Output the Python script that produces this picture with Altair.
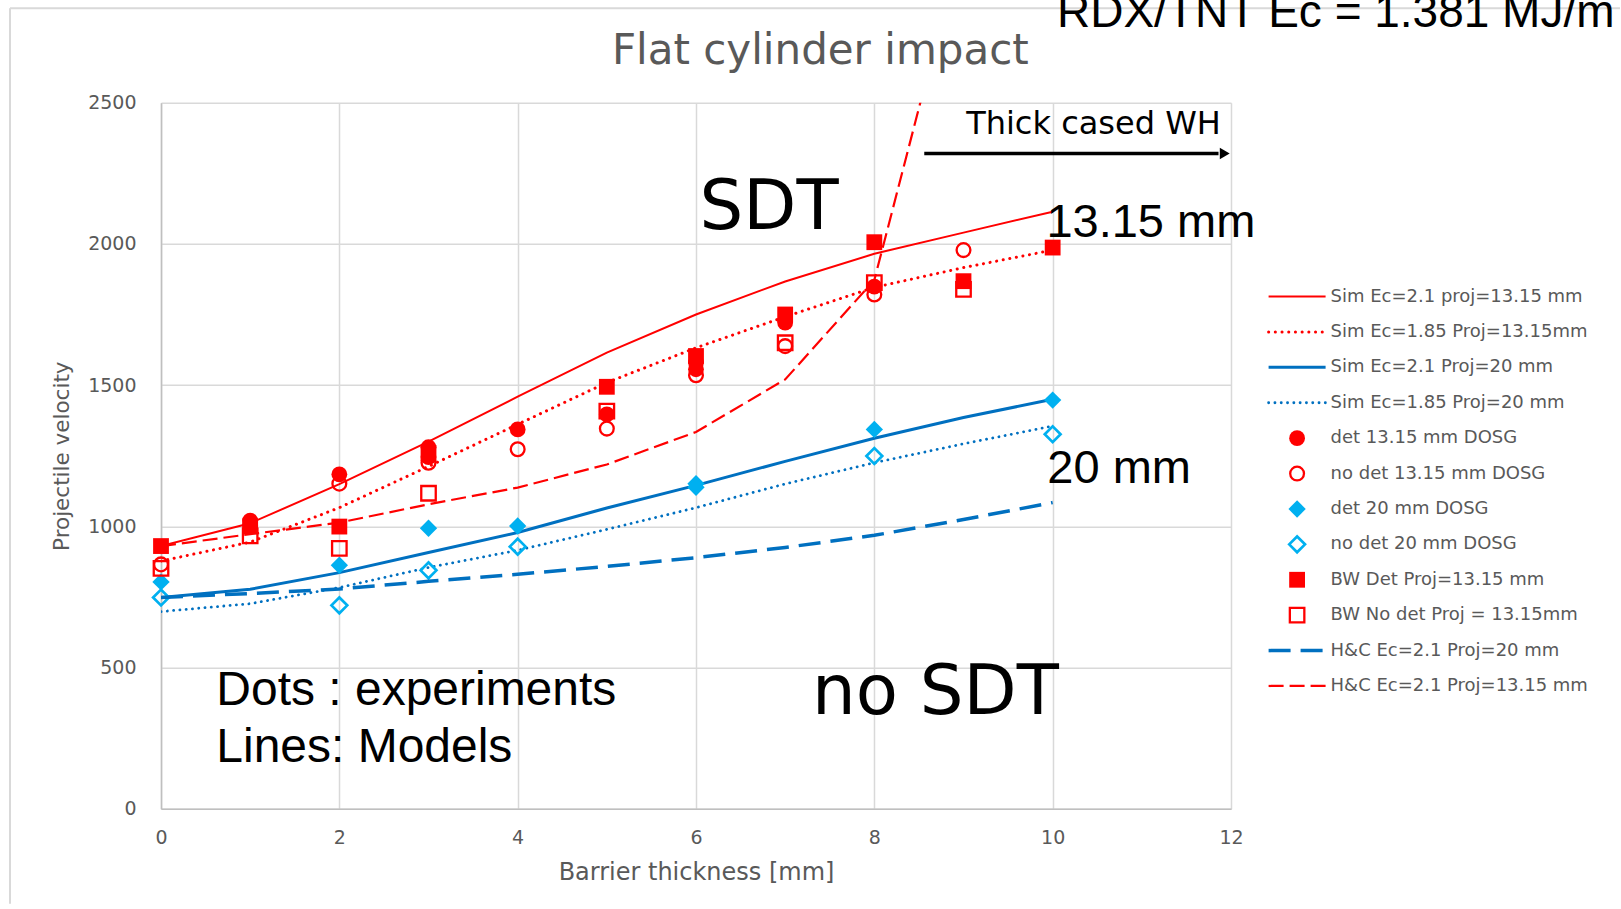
import altair as alt
import pandas as pd

# ---------------- data ----------------
x_sim = [0, 1, 2, 3, 4, 5, 6, 7, 8, 9, 10]
sim_ec21_p1315 = [930, 1011, 1149, 1300, 1459, 1615, 1750, 1867, 1965, 2040, 2114]
sim_ec185_p1315 = [877, 944, 1066, 1212, 1361, 1509, 1632, 1742, 1846, 1916, 1978]
sim_ec21_p20 = [748, 777, 836, 907, 978, 1065, 1145, 1230, 1312, 1385, 1450]
sim_ec185_p20 = [698, 726, 783, 854, 915, 989, 1066, 1150, 1225, 1292, 1355]

hc_x_p20 = [0, 1, 2, 3, 4, 5, 6, 7, 8, 9, 10]
hc_ec21_p20 = [748, 762, 778, 805, 830, 858, 889, 925, 968, 1024, 1084]
hc_x_p1315 = [0, 1, 2, 3, 4, 5, 6, 7, 8, 9]
hc_ec21_p1315 = [930, 972, 1013, 1078, 1137, 1219, 1334, 1520, 1872, 3090]

det1315_x = [1, 1, 2, 3, 3, 4, 5, 6, 6, 7, 8]
det1315_y = [1020, 1002, 1184, 1280, 1245, 1343, 1396, 1580, 1556, 1721, 1849]
nodet1315_x = [0, 2, 3, 4, 5, 6, 7, 8, 9]
nodet1315_y = [865, 1151, 1225, 1273, 1346, 1535, 1638, 1821, 1978]
det20_x = [0, 2, 3, 4, 6, 6, 8, 10]
det20_y = [803, 862, 993, 1001, 1151, 1138, 1343, 1447]
nodet20_x = [0, 2, 3, 4, 8, 10]
nodet20_y = [748, 720, 844, 928, 1249, 1326]
bwdet_x = [0, 1, 2, 3, 5, 6, 7, 8, 9, 10]
bwdet_y = [930, 1000, 999, 1260, 1494, 1603, 1750, 2006, 1868, 1987]
bwnodet_x = [0, 1, 2, 3, 5, 7, 8, 9]
bwnodet_y = [851, 966, 922, 1117, 1408, 1650, 1863, 1839]

series_names = [
    "Sim Ec=2.1 proj=13.15 mm",
    "Sim Ec=1.85  Proj=13.15mm",
    "Sim Ec=2.1 Proj=20 mm",
    "Sim Ec=1.85 Proj=20 mm",
    "det 13.15 mm DOSG",
    "no det 13.15 mm DOSG",
    "det 20 mm DOSG",
    "no det 20 mm DOSG",
    "BW Det Proj=13.15 mm",
    "BW No det Proj = 13.15mm",
    "H&C Ec=2.1 Proj=20 mm",
    "H&C Ec=2.1 Proj=13.15 mm",
]
legend_rows = list(range(len(series_names)))

x_ticks = [0, 2, 4, 6, 8, 10, 12]
y_ticks = [0, 500, 1000, 1500, 2000, 2500]

# ---------------- styles ----------------
RED = "#FF0000"
BLUE = "#0070C0"
CYAN = "#00B0F0"
GREY = "#595959"

styles = {
    series_names[0]: dict(kind="line", color=RED, strokeWidth=2),
    series_names[1]: dict(kind="line", color=RED, strokeWidth=3, strokeDash=[0.1, 6.6], strokeCap="round"),
    series_names[2]: dict(kind="line", color=BLUE, strokeWidth=3),
    series_names[3]: dict(kind="line", color=BLUE, strokeWidth=2.8, strokeDash=[0.1, 6.2], strokeCap="round"),
    series_names[4]: dict(kind="point", color=RED, shape="circle", filled=True, size=250),
    series_names[5]: dict(kind="point", color=RED, shape="circle", filled=False, size=190, strokeWidth=2.3),
    series_names[6]: dict(kind="point", color=CYAN, shape="diamond", filled=True, size=300),
    series_names[7]: dict(kind="point", color=CYAN, shape="diamond", filled=False, size=250, strokeWidth=2.7),
    series_names[8]: dict(kind="point", color=RED, shape="square", filled=True, size=250),
    series_names[9]: dict(kind="point", color=RED, shape="square", filled=False, size=210, strokeWidth=2.3),
    series_names[10]: dict(kind="line", color=BLUE, strokeWidth=3.5, strokeDash=[22, 10]),
    series_names[11]: dict(kind="line", color=RED, strokeWidth=2.2, strokeDash=[15, 6]),
}

series_data = {
    series_names[0]: (x_sim, sim_ec21_p1315),
    series_names[1]: (x_sim, sim_ec185_p1315),
    series_names[2]: (x_sim, sim_ec21_p20),
    series_names[3]: (x_sim, sim_ec185_p20),
    series_names[4]: (det1315_x, det1315_y),
    series_names[5]: (nodet1315_x, nodet1315_y),
    series_names[6]: (det20_x, det20_y),
    series_names[7]: (nodet20_x, nodet20_y),
    series_names[8]: (bwdet_x, bwdet_y),
    series_names[9]: (bwnodet_x, bwnodet_y),
    series_names[10]: (hc_x_p20, hc_ec21_p20),
    series_names[11]: (hc_x_p1315, hc_ec21_p1315),
}

# ---------------- scales / axes ----------------
X_SCALE = alt.Scale(domain=[0, 12], nice=False, zero=False)
Y_SCALE = alt.Scale(domain=[0, 2500], nice=False)

x_axis = alt.Axis(
    values=x_ticks, format="d", title="Barrier thickness [mm]",
    labelFont="DejaVu Sans", labelFontSize=19, labelColor=GREY, labelPadding=20,
    labelFlush=False,
    ticks=False, tickSize=0, domainColor="#BFBFBF", domainWidth=1.5,
    gridColor="#D9D9D9", gridWidth=1.5,
    titleFont="DejaVu Sans", titleFontSize=24, titleFontWeight="normal",
    titleColor=GREY, titlePadding=13,
)
y_axis = alt.Axis(
    values=y_ticks, format="d", title="Projectile velocity",
    labelFont="DejaVu Sans", labelFontSize=19, labelColor=GREY, labelPadding=25,
    labelFlush=False,
    ticks=False, tickSize=0, domainColor="#BFBFBF", domainWidth=1.5,
    gridColor="#D9D9D9", gridWidth=1.5,
    titleFont="DejaVu Sans", titleFontSize=21.5, titleFontWeight="normal",
    titleColor=GREY, titlePadding=14,
)


def xy(chart):
    return chart.encode(
        x=alt.X("x:Q", scale=X_SCALE, axis=x_axis),
        y=alt.Y("y:Q", scale=Y_SCALE, axis=y_axis),
    )


def point_mark(chart, st):
    st = dict(st)
    color = st.pop("color")
    filled = st.pop("filled")
    if filled:
        return chart.mark_point(color=color, filled=True, opacity=1, **st)
    return chart.mark_point(color=color, filled=False, fill=None, opacity=1, **st)


def series_layer(name):
    st = dict(styles[name])
    xs, ys = series_data[name]
    df = pd.DataFrame({"x": xs, "y": ys})
    kind = st.pop("kind")
    if kind == "line":
        return xy(alt.Chart(df).mark_line(clip=True, **st))
    return xy(point_mark(alt.Chart(df), st))


layers = [series_layer(n) for n in series_names]

# ---------------- annotations (data coordinates) ----------------
ann_big = pd.DataFrame({"t": ["SDT", "no SDT"], "x": [6.04, 7.30], "y": [2051, 334]})
ann_arial = pd.DataFrame({
    "t": ["13.15 mm", "20 mm", "Dots : experiments", "Lines: Models"],
    "x": [9.93, 9.94, 0.62, 0.62],
    "y": [2025, 1155, 366, 165],
})
ann_wh = pd.DataFrame({"t": ["Thick cased WH"], "x": [9.03], "y": [2388]})
arrow_line = pd.DataFrame({"x": [8.56], "x2": [11.86], "y": [2320]})
arrow_head = pd.DataFrame({"x": [11.93], "y": [2320]})

layers.append(xy(alt.Chart(ann_big).mark_text(
    font="DejaVu Sans", fontSize=69, color="black", align="left", baseline="alphabetic"
)).encode(text="t:N"))
layers.append(xy(alt.Chart(ann_arial.iloc[:2]).mark_text(
    font="Liberation Sans", fontSize=47, color="black", align="left", baseline="alphabetic"
)).encode(text="t:N"))
layers.append(xy(alt.Chart(ann_arial.iloc[2:]).mark_text(
    font="Liberation Sans", fontSize=48, color="black", align="left", baseline="alphabetic"
)).encode(text="t:N"))
layers.append(xy(alt.Chart(ann_wh).mark_text(
    font="DejaVu Sans", fontSize=32, color="black", align="left", baseline="alphabetic"
)).encode(text="t:N"))
layers.append(xy(alt.Chart(arrow_line).mark_rule(color="black", strokeWidth=3.5)).encode(x2="x2:Q"))
layers.append(xy(alt.Chart(arrow_head).mark_point(
    shape="triangle-right", filled=True, color="black", size=130, opacity=1)))

# ---------------- slide-level decorations (pixel positions) ----------------
frame = pd.DataFrame({"k": [0]})
layers.append(alt.Chart(frame).mark_rule(color="#D9D9D9", strokeWidth=2).encode(
    x=alt.value(-151), y=alt.value(-94.4), y2=alt.value(801)))
layers.append(alt.Chart(frame).mark_rule(color="#D9D9D9", strokeWidth=2).encode(
    x=alt.value(-151), x2=alt.value(1460), y=alt.value(-94.4)))
layers.append(alt.Chart(pd.DataFrame({"t": ["Flat cylinder impact"]})).mark_text(
    font="DejaVu Sans", fontSize=42, color=GREY, align="center", baseline="alphabetic"
).encode(x=alt.value(659.3), y=alt.value(-38.4), text="t:N"))
layers.append(alt.Chart(pd.DataFrame({"t": ["RDX/TNT Ec = 1.381 MJ/m"]})).mark_text(
    font="Liberation Sans", fontSize=46, color="black", align="left", baseline="alphabetic"
).encode(x=alt.value(896), y=alt.value(-75.5), text="t:N"))

main = alt.layer(*layers).properties(width=1070, height=706)

# ---------------- custom legend panel ----------------
LEG_Y = alt.Y("row:Q", scale=alt.Scale(domain=[-5.477, 14.467], reverse=True, nice=False, zero=False), axis=None)
LEG_X = alt.X("x:Q", scale=alt.Scale(domain=[0, 1], nice=False, zero=False), axis=None)

leg_layers = []
for i, n in enumerate(series_names):
    st = dict(styles[n])
    kind = st.pop("kind")
    if kind == "line":
        df = pd.DataFrame({"row": [legend_rows[i]], "x": [0.0], "x2": [1.0]})
        leg_layers.append(alt.Chart(df).mark_rule(**st).encode(x=LEG_X, x2="x2:Q", y=LEG_Y))
    else:
        df = pd.DataFrame({"row": [legend_rows[i]], "x": [0.5]})
        leg_layers.append(point_mark(alt.Chart(df), st).encode(x=LEG_X, y=LEG_Y))

leg_text = pd.DataFrame({"name": series_names, "row": legend_rows, "x": [1.0] * len(series_names)})
leg_layers.append(alt.Chart(leg_text).mark_text(
    font="DejaVu Sans", fontSize=18, color=GREY, align="left", baseline="middle", dx=5
).encode(x=LEG_X, y=LEG_Y, text="name:N"))

legend = alt.layer(*leg_layers).properties(width=57, height=706)

chart = alt.hconcat(main, legend, spacing=37.6, bounds="flush").properties(
    padding={"left": 9, "top": -10.3, "right": -2, "bottom": 0}
).configure_view(stroke=None)

chart.save("out.html", embed_options={"renderer": "svg", "actions": False})
